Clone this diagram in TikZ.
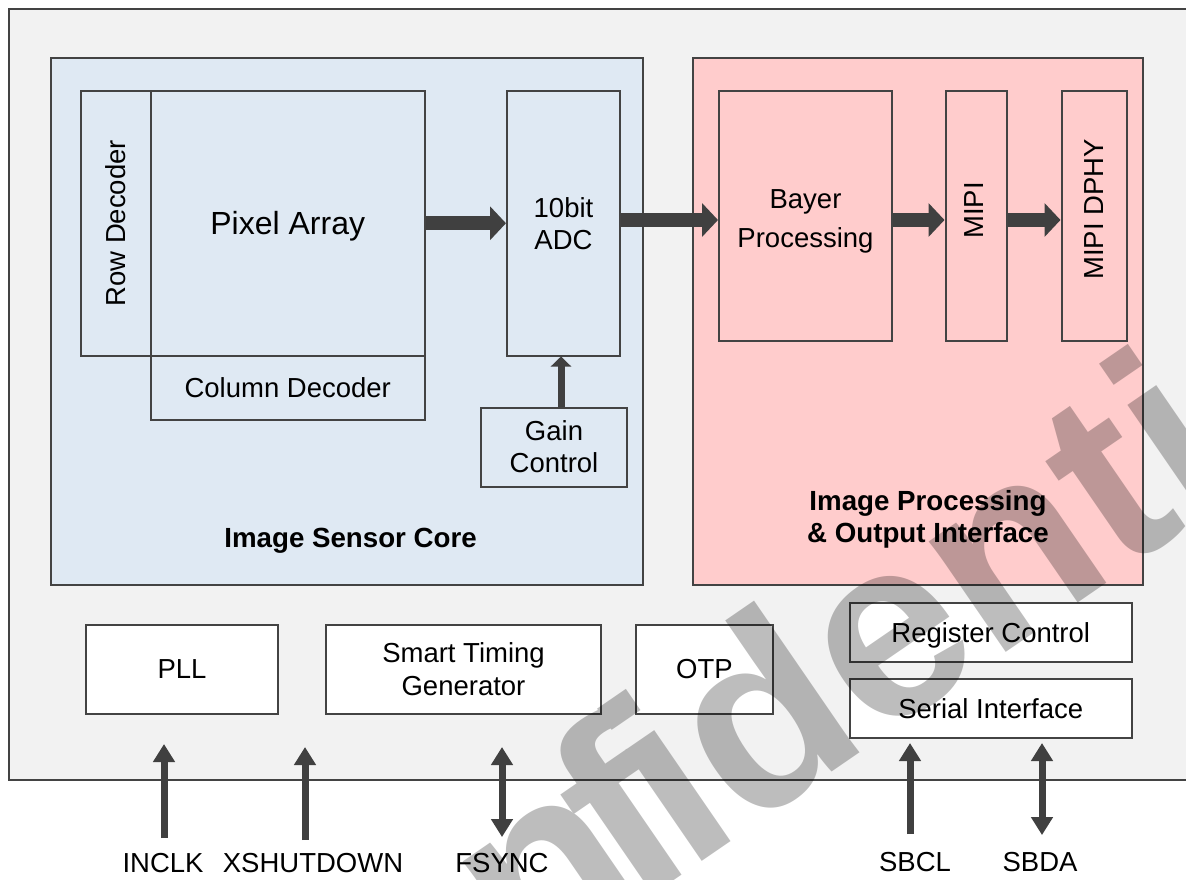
\documentclass[tikz,border=0pt]{standalone}
\usepackage{fontspec}
\setmainfont{Liberation Sans}
\usetikzlibrary{arrows.meta,calc}
\definecolor{bd}{HTML}{434343}
\definecolor{arr}{HTML}{404040}
\definecolor{outerfill}{HTML}{F2F2F2}
\definecolor{bluefill}{RGB}{223,233,243}
\definecolor{pinkfill}{RGB}{255,204,204}
\tikzset{
  box/.style={draw=bd, line width=2pt, inner sep=0pt, align=center, font=\fontsize{27.5}{32}\selectfont},
  wbox/.style={box, fill=white},
  lbl/.style={inner sep=0pt, align=center, font=\fontsize{27.5}{32}\selectfont},
  bigarrow/.style={draw=arr, line width=14pt, -{Triangle[length=16pt,width=33pt]}},
  pinarrow/.style={draw=arr, line width=7pt, -{Triangle[length=18pt,width=21pt]}},
  pinboth/.style={draw=arr, line width=7pt, {Triangle[length=18pt,width=21pt]}-{Triangle[length=18pt,width=21pt]}},
  pinlabel/.style={inner sep=0pt, font=\fontsize{27.5}{32}\selectfont},
  grouplabel/.style={inner sep=0pt, align=center, font=\fontsize{27.7}{32}\selectfont\bfseries}
}
\begin{document}
\begin{tikzpicture}[x=1pt,y=-1pt]
\useasboundingbox (0,0) rectangle (1186,880);
\fill[white] (0,0) rectangle (1186,880);
\begin{scope}
\clip (0,0) rectangle (1186,880);
% outer chip
\draw[draw=bd, line width=2pt, fill=outerfill] (9,9) rectangle (1200,780);
% group blocks
\node[box, fill=bluefill, minimum width=592.5, minimum height=527] (core) at (346.75,321.5) {};
\node[box, fill=pinkfill, minimum width=450.5, minimum height=527] (ipo) at (917.75,321.5) {};
\node[grouplabel, text depth=0pt] (corelbl) at (350.6,538) {Image Sensor Core};
\node[grouplabel] (ipolbl) at (928,519.5) {Image Processing\\\& Output Interface};
% sensor core
\node[box, fill=bluefill, rotate=90, minimum width=264.5, minimum height=70] (rowdec) at (115.5,223.25) {Row Decoder};
\node[box, fill=bluefill, minimum width=274.5, minimum height=264.5, text depth=0pt, font=\fontsize{32}{36}\selectfont] (pix) at (287.75,223.25) {Pixel Array};
\node[box, fill=bluefill, minimum width=274.5, minimum height=64.5] (coldec) at (287.75,387.75) {Column Decoder};
\node[box, fill=bluefill, minimum width=113, minimum height=264.5] (adc) at (563.5,223.25) {10bit\\ADC};
\node[box, fill=bluefill, minimum width=146, minimum height=79] (gain) at (554,447) {Gain\\Control};
% processing
\node[box, fill=pinkfill, minimum width=173, minimum height=250] (bayer) at (805.5,216) {};
\node[lbl, font=\fontsize{27.5}{39}\selectfont] (bayerlbl) at (805.5,221.5) {Bayer\\Processing};
\node[box, fill=pinkfill, minimum width=61, minimum height=250] (mipi) at (976,216) {};
\node[lbl, rotate=90] (mipilbl) at (974.5,210.5) {MIPI};
\node[box, fill=pinkfill, minimum width=65.5, minimum height=250] (dphy) at (1094.25,216) {};
\node[lbl, rotate=90] (dphylbl) at (1094,209.5) {MIPI DPHY};
% bottom blocks
\node[wbox, minimum width=192, minimum height=89] (pll) at (182,669.5) {PLL};
\node[wbox, minimum width=275, minimum height=89, font=\fontsize{27.5}{33}\selectfont] (stg) at (463.5,669.5) {Smart Timing\\Generator};
\node[wbox, minimum width=137, minimum height=89] (otp) at (704.5,669.5) {OTP};
\node[wbox, minimum width=282.5, minimum height=59, text depth=0pt] (reg) at (990.75,632.5) {Register Control};
\node[wbox, minimum width=282.5, minimum height=59] (ser) at (990.75,708.5) {Serial Interface};
% data path arrows
\coordinate (ay) at (0,220);
\coordinate (gx) at (561,0);
\draw[bigarrow] (pix.east) -- (adc.west);
\draw[bigarrow] (adc.east |- ay) -- (bayer.west |- ay);
\draw[bigarrow] (bayer.east |- ay) -- (mipi.west |- ay);
\draw[bigarrow] (mipi.east |- ay) -- (dphy.west |- ay);
\draw[draw=arr, line width=7pt, -{Triangle[length=10pt,width=20pt]}] (gain.north -| gx) -- (adc.south -| gx);
% pins
\node[pinlabel] (inclk) at (163,863) {INCLK};
\node[pinlabel] (xshut) at (313,863) {XSHUTDOWN};
\node[pinlabel] (fsync) at (502,863) {FSYNC};
\node[pinlabel] (sbcl) at (915,862) {SBCL};
\node[pinlabel] (sbda) at (1040,862) {SBDA};
\coordinate (tInclk) at (164,744);
\coordinate (bInclk) at (164,838);
\coordinate (tXs) at (305,747);
\coordinate (bXs) at (305,840);
\coordinate (tFs) at (502,747);
\coordinate (bFs) at (502,837);
\coordinate (tScl) at (910,743);
\coordinate (bScl) at (910,835);
\coordinate (tSda) at (1042,743);
\coordinate (bSda) at (1042,836);
\draw[pinarrow] (inclk.north -| bInclk) ++(0,-15) -- (tInclk);
\draw[pinarrow] (xshut.north -| bXs) ++(0,-13) -- (tXs);
\draw[pinboth] (fsync.north -| bFs) ++(0,-16) -- (tFs);
\draw[pinarrow] (sbcl.north -| bScl) ++(0,-18) -- (tScl);
\draw[pinboth] (sbda.north -| bSda) ++(0,-17) -- (tSda);
% watermark
\begin{scope}[transparency group, opacity=0.26]
\node[rotate=34.5, anchor=base west, inner sep=0pt, text=black,
      font=\fontsize{255}{255}\selectfont\bfseries] (wm) at (245.7,1174.8) {Con\kern-25pt f\kern-20pt idential};
\end{scope}
\end{scope}
\end{tikzpicture}
\end{document}
